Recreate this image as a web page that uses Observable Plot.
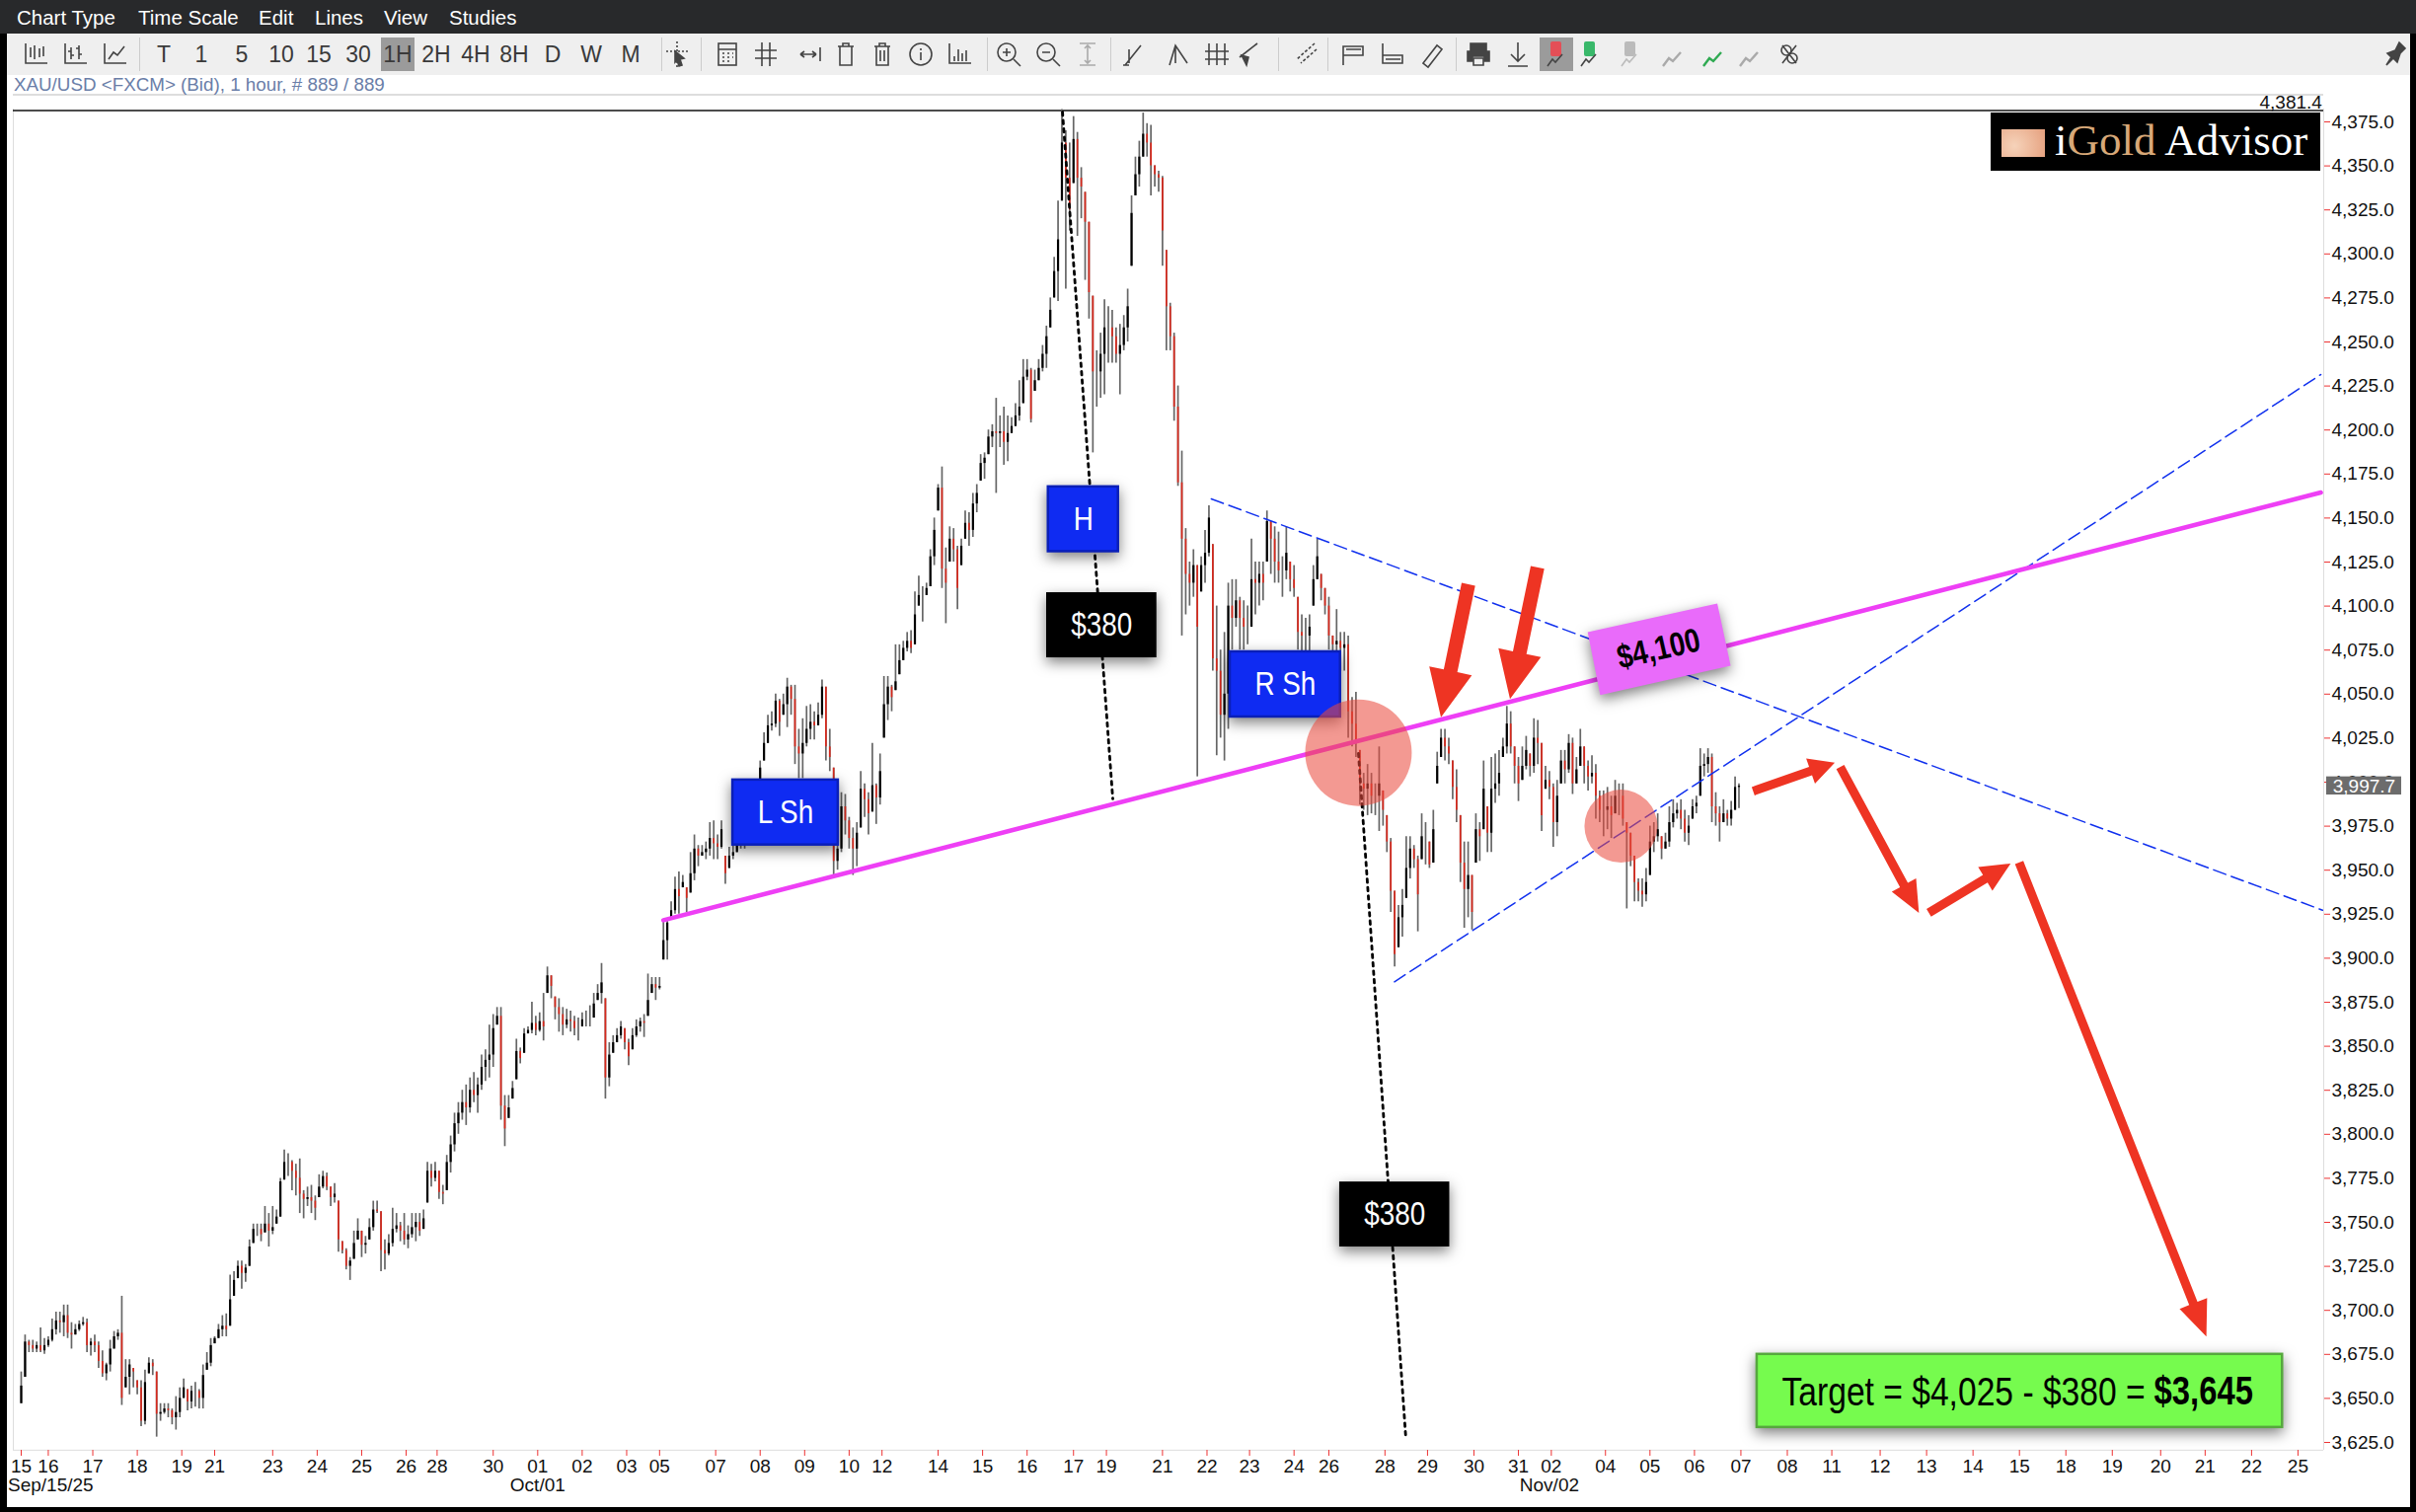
<!DOCTYPE html>
<html><head><meta charset="utf-8">
<script src="https://cdn.jsdelivr.net/npm/d3@7"></script>
<script src="https://cdn.jsdelivr.net/npm/@observablehq/plot@0.6"></script>
<style>
html,body{margin:0;padding:0;background:#000;width:2448px;height:1532px;overflow:hidden;font-family:"Liberation Sans",sans-serif}
#page{position:absolute;left:7px;top:0;width:2435px;height:1527px;background:#fff}
#chart{position:absolute;left:0;top:0}
.abs{position:absolute;white-space:nowrap}
.menu{color:#fff;font-size:20.5px;top:6px}
.tb{color:#3a3a3a;font-size:23px;top:42px;transform:translateX(-50%);line-height:26px}
svg.ic{position:absolute;top:40px;width:30px;height:30px;fill:none;stroke:#444;stroke-width:1.6}
</style></head><body>
<div id="page"></div><div id="chart"></div><div id="ui"></div>
<script>
// candles, every second hourly bar: high, low, close
const highs=[3665,3686,3683,3683,3682,3690,3684,3685,3695,3699,3699,3703,3703,3693,3692,3694,3696,3695,3684,3686,
3682,3677,3670,3683,3688,3689,3708,3672,3672,3667,3660,3660,3666,3673,3672,3665,3647,3647,3647,3644,
3651,3656,3661,3655,3657,3659,3655,3669,3676,3684,3685,3692,3697,3698,3720,3722,3728,3728,3726,3740,
3749,3749,3749,3759,3755,3759,3757,3775,3791,3789,3785,3783,3786,3768,3770,3771,3765,3777,3779,3778,
3770,3772,3762,3739,3735,3730,3745,3752,3745,3742,3752,3762,3762,3756,3740,3743,3758,3755,3750,3755,
3748,3755,3755,3755,3757,3784,3783,3784,3779,3771,3788,3799,3812,3818,3825,3828,3832,3835,3832,3845,
3848,3862,3868,3872,3872,3822,3822,3830,3854,3849,3860,3861,3875,3867,3869,3880,3895,3890,3878,3877,
3872,3871,3870,3867,3866,3869,3870,3873,3880,3885,3897,3877,3852,3856,3860,3864,3860,3854,3860,3865,3866,
3868,3891,3889,3889,3889,3921,3922,3932,3946,3949,3947,3940,3960,3970,3964,3964,3966,3977,3978,3970,3978,
3958,3963,3965,3980,3972,3978,3986,3992,3998,4012,4028,4038,4040,4050,4047,4050,4059,4055,4055,4030,
4036,4043,4044,4040,4045,4058,4054,4030,4008,3967,3994,3993,3980,3974,3977,4006,3999,3994,4022,3999,4016,
4060,4060,4055,4078,4078,4080,4085,4086,4108,4117,4111,4113,4132,4150,4169,4179,4133,4145,4144,4134,
4138,4154,4153,4164,4169,4186,4187,4200,4203,4218,4208,4213,4208,4207,4215,4228,4240,4240,4235,4234,
4240,4248,4259,4275,4298,4330,4382,4370,4363,4378,4369,4349,4335,4318,4276,4245,4255,4274,4270,4268,
4258,4260,4265,4280,4333,4355,4364,4380,4374,4373,4350,4347,4344,4302,4272,4255,4225,4188,4144,4125,
4132,4123,4128,4143,4157,4135,4100,4075,4085,4113,4115,4115,4105,4103,4100,4138,4125,4125,4125,4154,
4148,4145,4142,4128,4145,4125,4123,4105,4095,4093,4095,4123,4138,4118,4110,4105,4083,4098,4085,4085,
4083,4048,4051,4018,4005,4010,4005,3999,4020,3995,3981,3968,3938,3930,3939,3969,3969,3964,3958,3982,
3977,3966,3984,4017,4030,4030,4025,4012,4007,3981,3966,3966,3947,3982,3977,4012,3986,4014,4016,4018,
4025,4043,4040,4020,4014,4020,4026,4016,4036,4035,4022,4009,4006,3999,4001,4018,4018,4027,4025,4014,
4030,4020,4012,4015,4010,3995,3995,3997,3992,4001,3999,3999,3977,3971,3958,3945,3945,3951,3975,3977,
3982,3969,3971,3986,3990,3988,3990,3984,3981,3990,3992,4019,4016,4019,4016,3994,3986,3990,3984,3989,4003,3999];
const lows=[3647,3662,3676,3676,3676,3676,3675,3679,3682,3686,3687,3685,3684,3678,3686,3688,3691,3676,3674,3676,
3667,3662,3660,3665,3678,3683,3646,3656,3652,3656,3652,3634,3635,3664,3663,3628,3637,3641,3639,3635,
3632,3639,3650,3643,3644,3645,3644,3644,3666,3668,3681,3684,3685,3685,3691,3708,3718,3712,3716,3725,
3738,3742,3739,3744,3736,3743,3749,3753,3774,3776,3768,3765,3755,3752,3759,3755,3751,3764,3769,3768,
3759,3761,3733,3732,3723,3717,3729,3740,3730,3732,3740,3745,3755,3722,3723,3731,3736,3744,3739,3737,
3735,3741,3739,3742,3746,3761,3770,3773,3763,3760,3768,3778,3790,3800,3808,3805,3812,3818,3812,3825,
3830,3832,3838,3862,3808,3793,3809,3820,3831,3840,3846,3857,3857,3856,3858,3853,3880,3877,3865,3858,
3856,3860,3858,3856,3853,3861,3861,3861,3866,3876,3874,3820,3827,3846,3852,3854,3848,3839,3848,3855,3858,
3855,3867,3880,3876,3882,3899,3899,3922,3925,3925,3940,3926,3937,3944,3952,3958,3956,3958,3956,3956,3962,
3942,3951,3956,3960,3962,3962,3974,3978,3986,3996,4012,4022,4029,4031,4026,4038,4031,4038,4010,4002,
4002,4020,4024,4024,4032,4036,4012,4006,3947,3950,3960,3970,3962,3947,3952,3974,3980,3970,3983,3976,3987,
4025,4035,4040,4052,4061,4069,4074,4073,4078,4100,4091,4106,4111,4123,4154,4110,4090,4125,4125,4098,
4123,4138,4134,4139,4153,4171,4172,4186,4190,4164,4190,4180,4182,4198,4202,4205,4215,4228,4204,4222,
4228,4233,4235,4258,4275,4273,4330,4280,4313,4340,4310,4320,4285,4263,4187,4213,4218,4220,4238,4238,
4238,4220,4245,4250,4293,4333,4338,4355,4355,4333,4338,4335,4293,4245,4245,4205,4168,4083,4095,4100,
4105,4003,4108,4113,4128,4063,4015,4025,4012,4030,4075,4088,4075,4075,4078,4088,4095,4100,4103,4125,
4118,4113,4113,4105,4115,4108,4105,4075,4074,4074,4074,4100,4115,4103,4095,4075,4073,4066,4063,4063,
4025,4020,4014,3987,3984,3981,3982,3981,3972,3975,3960,3926,3895,3906,3912,3934,3945,3951,3915,3956,
3953,3951,3954,3999,4014,4012,4010,3990,3977,3943,3917,3923,3916,3954,3955,3973,3960,3960,3988,3992,
4014,4016,4016,3999,3989,4001,4007,4003,4005,4010,3972,3996,3990,3963,3969,3999,3999,4005,3993,3999,
4009,3999,3995,3999,3979,3977,3969,3973,3968,3982,3981,3975,3928,3952,3932,3932,3929,3932,3947,3960,
3966,3956,3962,3963,3974,3979,3973,3966,3964,3979,3982,3992,4003,4005,3977,3975,3966,3977,3975,3975,3984,3985];
const closes=[3657,3682,3680,3678,3680,3677,3680,3683,3689,3694,3693,3697,3687,3686,3689,3692,3693,3680,3682,3680,
3671,3664,3669,3678,3685,3687,3650,3662,3669,3665,3656,3637,3659,3670,3668,3641,3642,3644,3643,3639,
3642,3650,3656,3648,3654,3654,3650,3663,3670,3680,3684,3689,3691,3689,3706,3717,3725,3721,3724,3736,
3746,3746,3743,3749,3745,3747,3753,3773,3784,3784,3779,3775,3766,3763,3764,3762,3758,3770,3776,3770,
3764,3766,3740,3734,3725,3728,3738,3745,3737,3738,3747,3757,3756,3734,3732,3738,3746,3748,3745,3740,
3743,3747,3750,3745,3752,3779,3775,3779,3767,3766,3784,3794,3806,3812,3818,3815,3825,3822,3828,3838,
3842,3845,3860,3867,3816,3803,3815,3826,3847,3843,3857,3859,3863,3859,3864,3861,3890,3884,3872,3868,
3862,3865,3864,3860,3860,3865,3865,3865,3874,3880,3886,3832,3845,3852,3856,3861,3852,3844,3856,3861,3864,
3863,3876,3885,3883,3884,3910,3920,3927,3939,3935,3943,3934,3948,3962,3958,3960,3962,3968,3965,3963,3973,
3948,3958,3960,3972,3968,3973,3982,3988,3994,4008,4022,4032,4033,4046,4034,4044,4054,4047,4020,4016,
4022,4030,4034,4032,4038,4054,4020,4014,3955,3962,3986,3978,3968,3962,3971,3996,3990,3982,3998,3991,4006,
4044,4054,4048,4057,4069,4076,4080,4076,4095,4106,4106,4110,4128,4143,4167,4121,4113,4138,4132,4110,
4134,4147,4143,4158,4164,4181,4184,4196,4199,4198,4199,4193,4198,4202,4208,4213,4230,4234,4206,4228,
4235,4243,4253,4268,4290,4308,4363,4343,4325,4365,4343,4338,4318,4278,4233,4233,4243,4258,4258,4253,
4243,4248,4258,4270,4323,4345,4355,4368,4363,4350,4345,4343,4313,4270,4253,4213,4170,4138,4118,4113,
4123,4088,4123,4130,4150,4070,4063,4038,4050,4100,4093,4103,4093,4088,4088,4115,4113,4118,4113,4148,
4138,4125,4120,4120,4130,4115,4110,4085,4083,4083,4088,4115,4128,4110,4100,4083,4078,4080,4076,4078,
4040,4033,4022,3999,3996,3999,3992,3992,3999,3984,3966,3938,3902,3923,3930,3951,3962,3956,3936,3969,
3969,3953,3973,4009,4025,4020,4016,3997,3984,3954,3939,3947,3926,3973,3969,3996,3971,3996,3999,4005,
4020,4033,4020,4009,3999,4009,4018,4009,4025,4022,3981,4001,3997,3977,3992,4012,4007,4022,3999,4007,
4020,4009,4003,4005,3992,3984,3984,3986,3981,3992,3992,3979,3971,3958,3943,3938,3936,3943,3966,3969,
3973,3962,3966,3977,3982,3984,3979,3971,3975,3986,3988,4009,4010,4014,3986,3982,3977,3982,3979,3984,3997,3997.7];
// x axis
const tickHours=[0,14,37,60,83,100,130,153,176,199,215,244,267,290,313,330,359,382,405,428,445,474,497,520,544,561,590,613,635,658,676,705,727,751,774,791,819,842,865,889,913,936,961,985,1009,1033,1057,1081,1106,1129,1153,1177];
const tickLabels=["15","16","17","18","19","21","23","24","25","26","28","30","01","02","03","05","07","08","09","10","12","14","15","16","17","19","21","22","23","24","26","28","29","30","31","02","04","05","06","07","08","11","12","13","14","15","18","19","20","21","22","25"];
const dateLabels=["Sep/15/25","Oct/01","Nov/02"], dateHours=[15.2,267,790];
const priceTicks=d3.range(3625,4376,25);
// trend lines: start hour/price, end hour/price
const pinkLine=[[332,3921.6],[1188.8,4164.5]];
const blueUpper=[[615.2,4160.9],[1189.7,3927.3]];
const blueLower=[[709.9,3886.6],[1188.8,4231.5]];
const dottedA=[[538.3,4380.6],[564.3,3990.5]];
const dottedB=[[691.3,4016.3],[715.8,3627.3]];
// labelled boxes
const boxNames=["L Sh","H","$380","R Sh","$380"];
const boxX1=[367.9,531,530.1,625,681.6], boxX2=[422.4,567.2,587.1,682,738.5];
const boxY1=[3964.3,4130.9,4070.6,4037,3736], boxY2=[4001.2,4167.7,4107.6,4074,3772.9];
const boxFills=["#0f2bf2","#0f2bf2","#000","#0f2bf2","#000"];
const boxes=boxNames.map((n,i)=>({n,x1:boxX1[i],x2:boxX2[i],y1:boxY1[i],y2:boxY2[i],f:boxFills[i]}));
const blueBoxes=boxes.filter(b=>b.f!="#000"), blackBoxes=boxes.filter(b=>b.f=="#000");
const tagPolygon=[[809.8,4085.2],[876.8,4101.5],[883.7,4066.2],[816.3,4049.4],[809.8,4085.2]];
const circleHours=[691.3,827], circlePrices=[4016.7,3975];
// arrows: tail hour, tail price, tip hour, tip price, shaft, head width, head length
const arrowsData=[[748.4,4112.1,734.2,4036.6,14,44,48],[784.1,4121.7,769.9,4046.9,14,44,48],
[895.6,3994.6,937.8,4010.8,9,27,26],[940.6,4008.3,981.3,3925.5,9,28,32],[986.4,3925.5,1028.7,3953.5,9,28,30],[1033.1,3954.1,1129.9,3684.9,9,30,36]];

const n=highs.length;
const candles=d3.range(n).map(i=>{
  const o=Math.max(lows[i],Math.min(highs[i],i?closes[i-1]:lows[i]));
  return {h:i*2,hi:highs[i],lo:lows[i],o,c:closes[i]};
});
const narrow=(k)=>({render(i,s,v,d,c,next){const g=next(i,s,v,d,c);g.querySelectorAll("text").forEach(t=>t.setAttribute("transform",(t.getAttribute("transform")||"")+` scale(${k},1)`));return g;}});
const shadow=(blur)=>({render(i,s,v,d,c,next){const g=next(i,s,v,d,c);g.style.filter=`drop-shadow(0 5px ${blur}px rgba(0,0,0,.5))`;return g;}});
const NS="http://www.w3.org/2000/svg";
const arrowMark=(index,{x,y})=>{
  const g=document.createElementNS(NS,"g");
  for(const [a,b,c,d,sw,hw,hl] of arrowsData){
    const x1=x(a),y1=y(b),x2=x(c),y2=y(d),L=Math.hypot(x2-x1,y2-y1),ux=(x2-x1)/L,uy=(y2-y1)/L,px=-uy,py=ux;
    const bx=x2-ux*hl,by=y2-uy*hl;
    const pts=[[x1+px*sw/2,y1+py*sw/2],[bx+px*sw/2,by+py*sw/2],[bx+px*hw/2,by+py*hw/2],[x2,y2],[bx-px*hw/2,by-py*hw/2],[bx-px*sw/2,by-py*sw/2],[x1-px*sw/2,y1-py*sw/2]];
    const p=document.createElementNS(NS,"polygon");
    p.setAttribute("points",pts.map(q=>q.join(",")).join(" "));p.setAttribute("fill","#ee3423");
    g.appendChild(p);
  }
  return g;
};
const xy={x:d=>d[0],y:d=>d[1]};
const chart=Plot.plot({
  width:2448,height:1532,marginLeft:13,marginRight:94,marginTop:110,marginBottom:63,
  style:{fontFamily:"Liberation Sans",fontSize:"19px",background:"transparent",color:"#111"},
  x:{type:"linear",domain:[-4.08,1190.3],range:[13,2354],axis:null},
  y:{type:"linear",domain:[3625,4375],range:[1461,123],axis:null},
  marks:[
    Plot.ruleX([-4.08,1190.3],{stroke:"#ddd"}),
    Plot.ruleY([3620.6],{stroke:"#ddd"}),
    Plot.ruleY([4381.4],{stroke:"#111",strokeWidth:1.5}),
    Plot.axisX({ticks:tickHours,tickFormat:h=>tickLabels[tickHours.indexOf(h)],tickSize:6,tickPadding:3,stroke:"#e33",fill:"#111",label:null,anchor:"bottom"}),
    Plot.axisY({ticks:priceTicks,tickFormat:d3.format(",.1f"),tickSize:6,tickPadding:2,stroke:"#e33",fill:"#111",label:null,anchor:"right"}),
    Plot.text(dateLabels,{x:(d,i)=>dateHours[i],y:()=>3600.4,text:d=>d,fill:"#111",fontSize:19}),
    Plot.text(["4,381.4"],{x:()=>1189.5,y:()=>4381.4,dy:-8,text:d=>d,textAnchor:"end",fill:"#111",fontSize:19}),
    Plot.ruleX(candles,{x:"h",y1:"lo",y2:"hi",stroke:"#666",strokeWidth:1.7}),
    Plot.ruleX(candles.filter(d=>d.c>=d.o),{x:"h",y1:"o",y2:"c",stroke:"#000",strokeWidth:2.2}),
    Plot.ruleX(candles.filter(d=>d.c<d.o),{x:"h",y1:"o",y2:"c",stroke:"#d8281c",strokeWidth:1.7}),
    Plot.line(dottedA,{...xy,stroke:"#000",strokeWidth:2.8,strokeDasharray:"3.5,5"}),
    Plot.line(dottedB,{...xy,stroke:"#000",strokeWidth:2.8,strokeDasharray:"3.5,5"}),
    Plot.line(blueUpper,{...xy,stroke:"#1030ee",strokeWidth:1.5,strokeDasharray:"13,6"}),
    Plot.line(blueLower,{...xy,stroke:"#1030ee",strokeWidth:1.5,strokeDasharray:"13,6"}),
    Plot.line(pinkLine,{...xy,stroke:"#ee3ff5",strokeWidth:4.6}),
    Plot.rect(blueBoxes,{x1:"x1",x2:"x2",y1:"y1",y2:"y2",fill:"#0f2bf2",stroke:"#0a1fb8",strokeWidth:2.5,...shadow(7)}),
    Plot.rect(blackBoxes,{x1:"x1",x2:"x2",y1:"y1",y2:"y2",fill:"#000",...shadow(7)}),
    Plot.text(boxes,{x:d=>(d.x1+d.x2)/2,y:d=>(d.y1+d.y2)/2,text:"n",fill:"#fff",fontSize:34,...narrow(.82)}),
    Plot.line(tagPolygon,{...xy,fill:"#e96bfa",stroke:"none",...shadow(7)}),
    Plot.text(["$4,100"],{x:()=>846.5,y:()=>4075.6,text:d=>d,rotate:-12.8,fill:"#000",fontSize:34,fontWeight:"bold",...narrow(.82)}),
    Plot.dot([0],{x:i=>circleHours[i],y:i=>circlePrices[i],r:54,fill:"#ea4a3c",fillOpacity:.56}),
    Plot.dot([1],{x:i=>circleHours[i],y:i=>circlePrices[i],r:37,fill:"#ea4a3c",fillOpacity:.56}),
    Plot.rect(["green"],{x1:()=>897.4,x2:()=>1169,y1:()=>3633.5,y2:()=>3675,fill:"#76fb4e",stroke:"#56a83e",strokeWidth:2.5,...shadow(7)}),
    Plot.text(["Target = $4,025 - $380 ="],{x:()=>910.2,y:()=>3653.6,text:d=>d,textAnchor:"start",fill:"#000",fontSize:41,...narrow(.82)}),
    Plot.text(["$3,645"],{x:()=>1102.6,y:()=>3653.6,text:d=>d,textAnchor:"start",fill:"#000",fontSize:40,fontWeight:"bold",...narrow(.82)}),
    Plot.rect(["last"],{x1:()=>1191.8,x2:()=>1230.6,y1:()=>3992.7,y2:()=>4003,fill:"#6c6c6c",clip:false}),
    Plot.text(["3,997.7"],{x:()=>1211.2,y:()=>3997.7,text:d=>d,fill:"#fff",fontSize:19}),
    arrowMark
  ]
});
document.getElementById("chart").appendChild(chart);

// application chrome around the chart
const ui=document.getElementById("ui");
const add=(html)=>ui.insertAdjacentHTML("beforeend",html);
add('<div class="abs" style="left:0;top:0;width:2448px;height:34px;background:#28292b"></div>');
add('<div class="abs" style="left:7px;top:34px;width:2435px;height:42px;background:#efefef"></div>');
add('<div class="abs" style="left:13px;top:95px;width:2341px;height:2px;background:#ddd"></div>');
[["Chart Type",17],["Time Scale",140],["Edit",262],["Lines",319],["View",389],["Studies",455]].forEach(([t,x])=>add(`<div class="abs menu" style="left:${x}px">${t}</div>`));
add('<div class="abs" style="left:386px;top:38px;width:34px;height:34px;background:#9b9b9b"></div>');
add('<div class="abs" style="left:1560px;top:38px;width:34px;height:34px;background:#9b9b9b"></div>');
[["T",166],["1",204],["5",245],["10",285],["15",323],["30",363],["1H",403],["2H",442],["4H",482],["8H",521],["D",560],["W",599],["M",639]].forEach(([t,x])=>add(`<div class="abs tb" style="left:${x}px">${t}</div>`));
const ic={
 bars:'<path d="M4 4v20h22M9 8v10M13 6v14M18 9v9M22 7v10"/>',
 ohlc:'<path d="M4 4v20h22M10 8v12M10 12h-3M10 16h3M18 6v14M18 9h-3M18 15h3"/>',
 line:'<path d="M4 4v20h22M8 20l5-7 4 3 7-9"/>',
 cursor:'<path d="M15 2v26" stroke-dasharray="2 2"/><path d="M4 12h22" stroke-dasharray="2 2"/><path d="M13 12l9 7-4 1 2 6-3 1-2-6-2 2z" fill="#444"/>',
 cal:'<rect x="6" y="4" width="18" height="22"/><path d="M6 10h18M10 14h2M15 14h2M20 14h1M10 18h2M15 18h2M20 18h1M10 22h2M15 22h2"/>',
 hash:'<path d="M11 3v24M19 3v24M4 11h22M4 19h22"/>',
 arrows:'<path d="M6 15h16M6 15l4-3M6 15l4 3M22 15l-4-3M22 15l-4 3M26 8v14"/>',
 trash:'<path d="M7 7h16M12 7V4h6v3M9 7v19h12V7"/>',
 trash2:'<path d="M7 7h16M12 7V4h6v3M9 7v19h12V7M13 11v11M17 11v11"/>',
 info:'<circle cx="15" cy="15" r="11"/><path d="M15 13v8M15 9v2"/>',
 hist:'<path d="M4 4v20h22M9 22v-5M13 22v-12M17 22v-8M21 22v-11"/>',
 zin:'<circle cx="13" cy="13" r="9"/><path d="M20 20l7 7M9 13h8M13 9v8"/>',
 zout:'<circle cx="13" cy="13" r="9"/><path d="M20 20l7 7M9 13h8"/>',
 fit:'<path stroke="#aaa" d="M7 4h16M7 26h16M15 6v18M12 9l3-3 3 3M12 21l3 3 3-3"/>',
 draw1:'<path d="M6 26L22 6M10 10v14M4 26h6"/>',
 draw2:'<path d="M8 26L14 6l12 18M14 6v18"/>',
 draw3:'<path d="M8 4v22M16 4v22M24 4v22M4 12h24M4 20h24"/>',
 draw4:'<path d="M24 4L6 18M8 16l5 10 2-8z" fill="#444"/>',
 fib:'<path d="M24 4L6 20M26 10L10 24" stroke-dasharray="3 2"/>',
 flag:'<path d="M6 26V7h20v9H6M9 10h15" />',
 floor:'<path d="M6 4v20h20v-8H6M9 20h15"/>',
 ruler:'<path d="M6 24L20 6l5 4-14 18z"/>',
 print:'<path fill="#444" d="M7 4h16v8h3v10h-5v-5H9v5H4V12h3z"/><path d="M10 19h10v7H10z"/>',
 down:'<path d="M15 3v18M8 15l7 7 7-7M5 27h20"/>',
 a:'<rect x="9" y="2" width="11" height="15" rx="2" fill="#e44f57" stroke="none"/><path d="M6 27l5-7 3 3 7-8"/>',
 b:'<rect x="9" y="2" width="11" height="15" rx="2" fill="#39b86a" stroke="none"/><path d="M6 27l5-7 3 3 7-8"/>',
 c:'<rect x="9" y="2" width="11" height="15" rx="2" fill="#bbb" stroke="none"/><path stroke="#bbb" d="M6 27l5-7 3 3 7-8"/>',
 gr:'<path stroke="#aaa" stroke-width="2.4" d="M6 27l6-8 4 3 8-9"/>',
 grn:'<path stroke="#2faa52" stroke-width="2.4" d="M6 27l6-8 4 3 8-9"/>',
 link:'<path d="M8 6l14 18M22 6L8 24"/><circle cx="12" cy="11" r="5"/><circle cx="18" cy="19" r="5"/>',
 pin:'<path fill="#444" d="M20 3l6 6-5 5-3 9-4-4-7 7 5-8-4-4 8-3z"/>'
};
[["bars",37],["ohlc",77],["line",117],["cursor",686],["cal",737],["hash",776],["arrows",820],["trash",857],["trash2",894],["info",933],["hist",973],["zin",1022],["zout",1062],["fit",1102],["draw1",1149],["draw2",1192],["draw3",1232],["draw4",1265],["fib",1323],["flag",1370],["floor",1410],["ruler",1451],["print",1498],["down",1538],["a",1577],["b",1611],["c",1652],["gr",1694],["grn",1735],["gr",1772],["link",1813],["pin",2426]]
 .forEach(([k,x])=>add(`<svg class="ic" viewBox="0 0 30 30" style="left:${x-15}px">${ic[k]}</svg>`));
[141,670,710,1000,1125,1295,1345,1475].forEach(x=>add(`<div class="abs" style="left:${x}px;top:38px;width:1px;height:34px;background:#ccc"></div>`));
add('<div class="abs" style="left:14px;top:75px;color:#6a7ea8;font-size:18.8px;line-height:22px">XAU/USD &lt;FXCM&gt; (Bid), 1 hour, # 889 / 889</div>');
add('<div class="abs" style="left:2017px;top:114px;width:334px;height:59px;background:#000"></div>');
add('<div class="abs" style="left:2028px;top:131px;width:44px;height:28px;background:radial-gradient(circle at 30% 60%,#f6d3ba,#e59f7d)"></div>');
add('<div class="abs" style="left:2082px;top:117px;font:45px/50px \'Liberation Serif\',serif;color:#fff">i<span style="color:#d7a878">Gold</span> Advisor</div>');
</script>
</body></html>
